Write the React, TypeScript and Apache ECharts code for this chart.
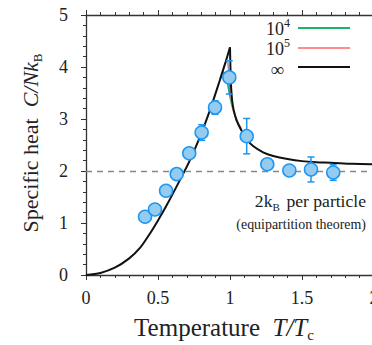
import React, { useEffect, useRef } from "react";
import * as echarts from "echarts";

// Measured data points (T/Tc, C/NkB, error)
const T_DATA = [0.41, 0.479, 0.556, 0.63, 0.717, 0.803, 0.896, 0.995, 1.116, 1.259, 1.412, 1.5625, 1.717];
const C_DATA = [1.12, 1.26, 1.62, 1.94, 2.34, 2.74, 3.22, 3.8, 2.67, 2.13, 2.01, 2.03, 1.97];
const C_ERR = [0.05, 0.05, 0.05, 0.05, 0.05, 0.15, 0.13, 0.32, 0.34, 0.05, 0.05, 0.24, 0.15];

// Theory, N = infinity (rising branch and falling branch)
const INF_RISE_T = [0, 0.1, 0.2, 0.3, 0.375, 0.44, 0.5, 0.56, 0.653, 0.722, 0.792, 0.861, 0.93, 0.97, 1.0];
const INF_RISE_C = [0, 0.04, 0.14, 0.32, 0.52, 0.78, 1.05, 1.34, 1.83, 2.21, 2.66, 3.17, 3.75, 4.1, 4.38];
const INF_FALL_T = [1.0, 1.003, 1.008, 1.015, 1.025, 1.045, 1.08, 1.12, 1.16, 1.23, 1.3, 1.4, 1.5, 1.6, 1.7, 1.85, 2.0];
const INF_FALL_C = [4.38, 4.0, 3.6, 3.35, 3.18, 2.98, 2.78, 2.6, 2.48, 2.36, 2.29, 2.23, 2.19, 2.17, 2.16, 2.14, 2.13];

// Finite N near the peak
const N4_T = [0.93, 0.95, 0.965, 0.98, 0.995, 1.01, 1.03, 1.06, 1.1];
const N4_C = [3.75, 3.9, 3.88, 3.72, 3.5, 3.3, 3.1, 2.88, 2.68];
const N5_T = [0.93, 0.96, 0.975, 0.985, 0.995, 1.005, 1.02, 1.05, 1.08];
const N5_C = [3.75, 4.02, 4.12, 4.05, 3.8, 3.5, 3.2, 2.97, 2.8];

const EQUIPARTITION = 2;
const X_TICKS = { min: 0, max: 2, interval: 0.5 };
const Y_TICKS = { min: 0, max: 5, interval: 1 };

const SERIF = "'Liberation Serif', 'DejaVu Serif', serif";
const BLUE = "#1E96F0";
const BLUE_FILL = "#93CBF1";
const GREEN = "#1DB46A";
const RED = "#FF8A8A";
const INK = "#222";

const zip = (a: number[], b: number[]) => a.map((v, i) => [v, b[i]]);

export default function App() {
  const ref = useRef<HTMLDivElement>(null);
  useEffect(() => {
    if (!ref.current) return;
    document.body.style.margin = "0";
    const chart = echarts.init(ref.current, undefined, { renderer: "svg" });
    const axisLine = { show: true, lineStyle: { color: "#333", width: 1.3 } };
    const xCommon = {
      type: "value" as const,
      min: X_TICKS.min,
      max: X_TICKS.max,
      interval: X_TICKS.interval,
      splitLine: { show: false },
      axisLine,
      axisTick: { show: true, length: 5, lineStyle: { color: "#333" } },
      minorTick: { show: true, splitNumber: 5, length: 3, lineStyle: { color: "#333" } },
    };
    const lineBase = { type: "line" as const, showSymbol: false, symbol: "none" };
    const supRich = {
      n: { fontFamily: SERIF, fontSize: 18, lineHeight: 24, fill: INK },
      p: { fontFamily: SERIF, fontSize: 12, lineHeight: 12, verticalAlign: "top", fill: INK },
    };
    const titleRich = (size: number) => ({
      n: { fontFamily: SERIF, fontSize: size, lineHeight: size + 6, fill: INK },
      i: { fontFamily: SERIF, fontSize: size, lineHeight: size + 6, fontStyle: "italic", fill: INK },
      s: { fontFamily: SERIF, fontSize: Math.round(size * 0.6), lineHeight: Math.round(size * 0.6) + 2, verticalAlign: "bottom", fill: INK },
    });
    chart.setOption({
      animation: false,
      textStyle: { fontFamily: SERIF },
      grid: { left: 86, top: 15, right: -2, bottom: 70, containLabel: false, outerBoundsMode: "none" },
      xAxis: [
        {
          ...xCommon,
          position: "bottom",
          axisLabel: { fontFamily: SERIF, fontSize: 18, color: INK, margin: 14 },
        },
        {
          ...xCommon,
          position: "top",
          axisLabel: { show: false },
        },
      ],
      yAxis: {
        type: "value",
        min: Y_TICKS.min,
        max: Y_TICKS.max,
        interval: Y_TICKS.interval,
        splitLine: { show: false },
        axisLine,
        axisTick: { show: true, length: 5, lineStyle: { color: "#333" } },
        minorTick: { show: true, splitNumber: 5, length: 3, lineStyle: { color: "#333" } },
        axisLabel: { fontFamily: SERIF, fontSize: 18, color: INK, margin: 18 },
      },
      series: [
        {
          ...lineBase,
          data: zip(N4_T, N4_C),
          smooth: 0.3,
          lineStyle: { color: GREEN, width: 1.6 },
          z: 2,
          markLine: {
            silent: true,
            symbol: "none",
            label: { show: false },
            lineStyle: { color: "#888", type: [6, 5], width: 1.3 },
            data: [{ yAxis: EQUIPARTITION }],
          },
        },
        {
          ...lineBase,
          data: zip(N5_T, N5_C),
          smooth: 0.3,
          lineStyle: { color: RED, width: 1.6 },
          z: 2,
        },
        {
          ...lineBase,
          data: zip(INF_RISE_T, INF_RISE_C),
          smooth: 0.3,
          lineStyle: { color: "#111", width: 2 },
          z: 3,
        },
        {
          ...lineBase,
          data: zip(INF_FALL_T, INF_FALL_C),
          smooth: 0.3,
          lineStyle: { color: "#111", width: 2 },
          z: 3,
        },
        {
          type: "custom",
          z: 4,
          data: T_DATA.map((t, i) => [t, C_DATA[i], C_ERR[i]]),
          renderItem: (params: any, api: any) => {
            const x = api.value(0);
            const y = api.value(1);
            const e = api.value(2);
            const hi = api.coord([x, y + e]);
            const lo = api.coord([x, y - e]);
            const hw = 3.5;
            const st = { stroke: BLUE, lineWidth: 1.5 };
            return {
              type: "group",
              children: [
                { type: "line", shape: { x1: hi[0], y1: hi[1], x2: lo[0], y2: lo[1] }, style: st },
                { type: "line", shape: { x1: hi[0] - hw, y1: hi[1], x2: hi[0] + hw, y2: hi[1] }, style: st },
                { type: "line", shape: { x1: lo[0] - hw, y1: lo[1], x2: lo[0] + hw, y2: lo[1] }, style: st },
              ],
            };
          },
        },
        {
          type: "scatter",
          z: 5,
          data: zip(T_DATA, C_DATA),
          symbol: "circle",
          symbolSize: 13,
          itemStyle: { color: BLUE_FILL, borderColor: BLUE, borderWidth: 1.5, opacity: 1 },
        },
      ],
      graphic: [
        // legend
        {
          type: "text",
          x: 290,
          y: 29,
          style: { text: "{n|10}{p|4}", align: "right", verticalAlign: "middle", fill: INK, rich: supRich },
        },
        { type: "line", shape: { x1: 298, y1: 28, x2: 350, y2: 28 }, style: { stroke: GREEN, lineWidth: 2 } },
        {
          type: "text",
          x: 290,
          y: 49,
          style: { text: "{n|10}{p|5}", align: "right", verticalAlign: "middle", fill: INK, rich: supRich },
        },
        { type: "line", shape: { x1: 298, y1: 48, x2: 350, y2: 48 }, style: { stroke: RED, lineWidth: 2 } },
        {
          type: "text",
          x: 284,
          y: 69,
          style: { text: "∞", align: "right", verticalAlign: "middle", fontFamily: SERIF, fontSize: 19, fill: INK },
        },
        { type: "line", shape: { x1: 298, y1: 67, x2: 350, y2: 67 }, style: { stroke: "#111", lineWidth: 2 } },
        // annotation
        {
          type: "text",
          x: 366,
          y: 202,
          scaleX: 1.1,
          style: {
            text: "{n|2k}{s|B}{n| per particle}",
            align: "right",
            verticalAlign: "middle",
            rich: {
              n: { fontFamily: SERIF, fontSize: 16, lineHeight: 22, fill: INK },
              s: { fontFamily: SERIF, fontSize: 10, lineHeight: 12, verticalAlign: "bottom", fill: INK, padding: [0, 2, 0, 0] },
            },
          },
        },
        {
          type: "text",
          x: 366,
          y: 224,
          scaleX: 0.9,
          style: {
            text: "(equipartition theorem)",
            align: "right",
            verticalAlign: "middle",
            fontFamily: SERIF,
            fontSize: 15.5,
            fill: INK,
          },
        },
        // axis titles
        {
          type: "text",
          x: 224,
          y: 327,
          style: {
            text: "{n|Temperature  }{i|T/T}{s|c}",
            align: "center",
            verticalAlign: "middle",
            rich: titleRich(25),
          },
        },
        {
          type: "text",
          x: 30,
          y: 143,
          rotation: Math.PI / 2,
          style: {
            text: "{n|Specific heat  }{i|C/Nk}{s|B}",
            align: "center",
            verticalAlign: "middle",
            rich: titleRich(22),
          },
        },
      ],
    });
    return () => chart.dispose();
  }, []);
  return <div ref={ref} style={{ width: 372, height: 345 }} />;
}
